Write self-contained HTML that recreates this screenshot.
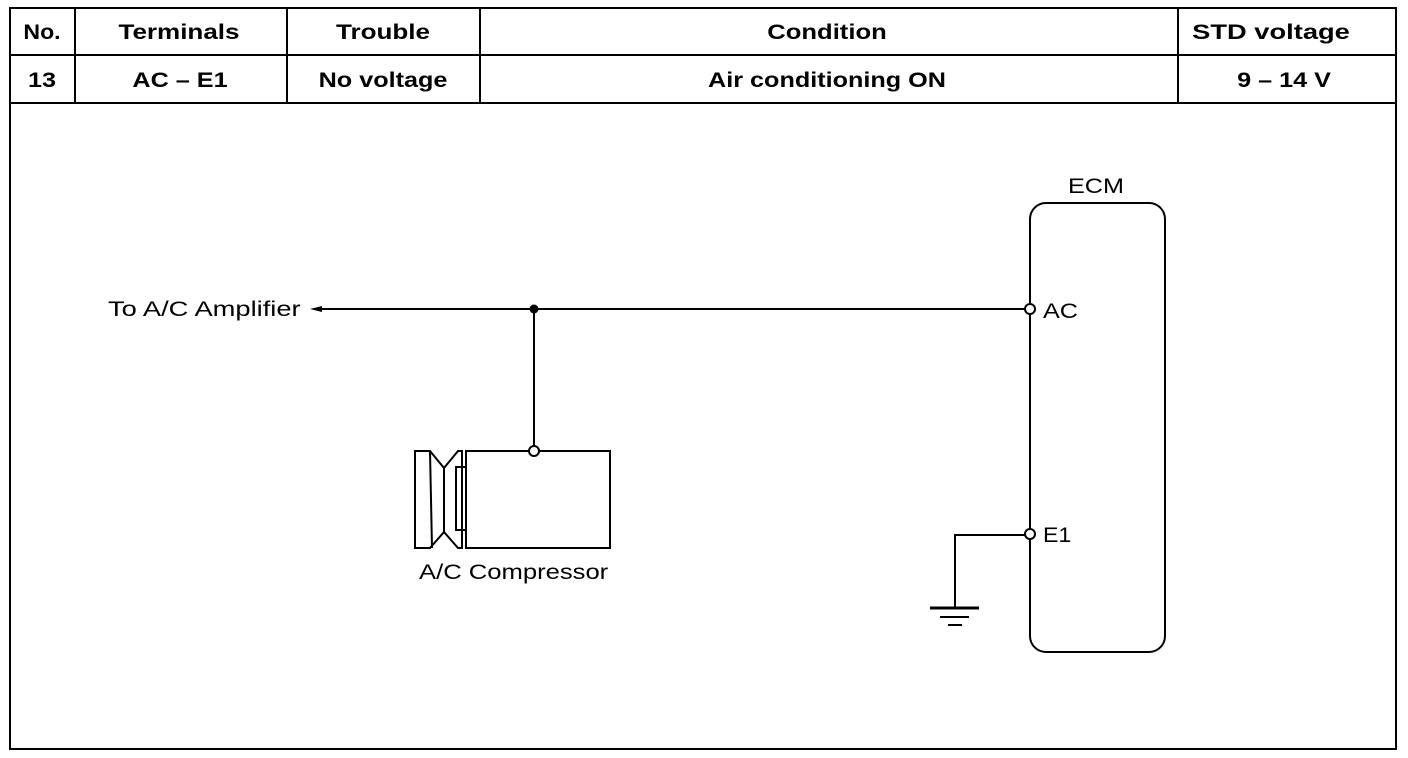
<!DOCTYPE html>
<html><head><style>
body{margin:0;background:#fff;}
svg{display:block;font-family:"Liberation Sans",sans-serif;}
</style></head><body>
<svg width="1408" height="758" viewBox="0 0 1408 758">
<rect x="10" y="8" width="1386" height="741" fill="none" stroke="#000" stroke-width="2"/>
<line x1="10" y1="55" x2="1396" y2="55" stroke="#000" stroke-width="2"/>
<line x1="10" y1="103" x2="1396" y2="103" stroke="#000" stroke-width="2"/>
<g stroke="#000" stroke-width="2">
<line x1="75" y1="8" x2="75" y2="103"/><line x1="287" y1="8" x2="287" y2="103"/>
<line x1="480" y1="8" x2="480" y2="103"/><line x1="1178" y1="8" x2="1178" y2="103"/>
</g>
<g font-size="21" font-weight="bold" text-anchor="middle">
<text transform="translate(42,39) scale(1.1,1)">No.</text>
<text transform="translate(179,39) scale(1.24,1)">Terminals</text>
<text transform="translate(383,39) scale(1.24,1)">Trouble</text>
<text transform="translate(827,39) scale(1.22,1)">Condition</text>
<text transform="translate(1271,39) scale(1.3,1)">STD voltage</text>
<text transform="translate(42,87) scale(1.2,1)">13</text>
<text transform="translate(180,87) scale(1.2,1)">AC – E1</text>
<text transform="translate(383,87) scale(1.2,1)">No voltage</text>
<text transform="translate(827,87) scale(1.2,1)">Air conditioning ON</text>
<text transform="translate(1284,87) scale(1.2,1)">9 – 14 V</text>
</g>
<g stroke="#000" stroke-width="2" fill="none">
<rect x="1030" y="203" width="135" height="449" rx="16"/>
<line x1="315" y1="309" x2="1025" y2="309"/>
<line x1="534" y1="309" x2="534" y2="446"/>
<polyline points="1025,535 955,535 955,608"/>
<line x1="930" y1="608" x2="979" y2="608" stroke-width="3"/>
<line x1="940" y1="617" x2="969" y2="617"/>
<line x1="948" y1="625" x2="962" y2="625"/>
<rect x="466" y="451" width="144" height="97"/>
<path d="M415,451 L430,451 L444,468 L444,532 L430,548 L415,548 Z"/>
<path d="M430,451 L432,548"/>
<path d="M444,468 L458,451 L462,451 L462,548 L458,548 L444,532"/>
<rect x="456" y="467" width="10" height="63"/>
</g>
<polygon points="310,309 322,306 322,312" fill="#000"/>
<circle cx="534" cy="309" r="4.5" fill="#000"/>
<g fill="#fff" stroke="#000" stroke-width="2">
<circle cx="534" cy="451" r="5"/>
<circle cx="1030" cy="309" r="5"/>
<circle cx="1030" cy="534" r="5"/>
</g>
<g font-size="21">
<text transform="translate(108,316) scale(1.3,1)">To A/C Amplifier</text>
<text transform="translate(1068,193) scale(1.2,1)">ECM</text>
<text transform="translate(1043,318) scale(1.2,1)">AC</text>
<text transform="translate(1043,542) scale(1.1,1)">E1</text>
<text transform="translate(419,579) scale(1.22,1)">A/C Compressor</text>
</g>
</svg>
</body></html>
